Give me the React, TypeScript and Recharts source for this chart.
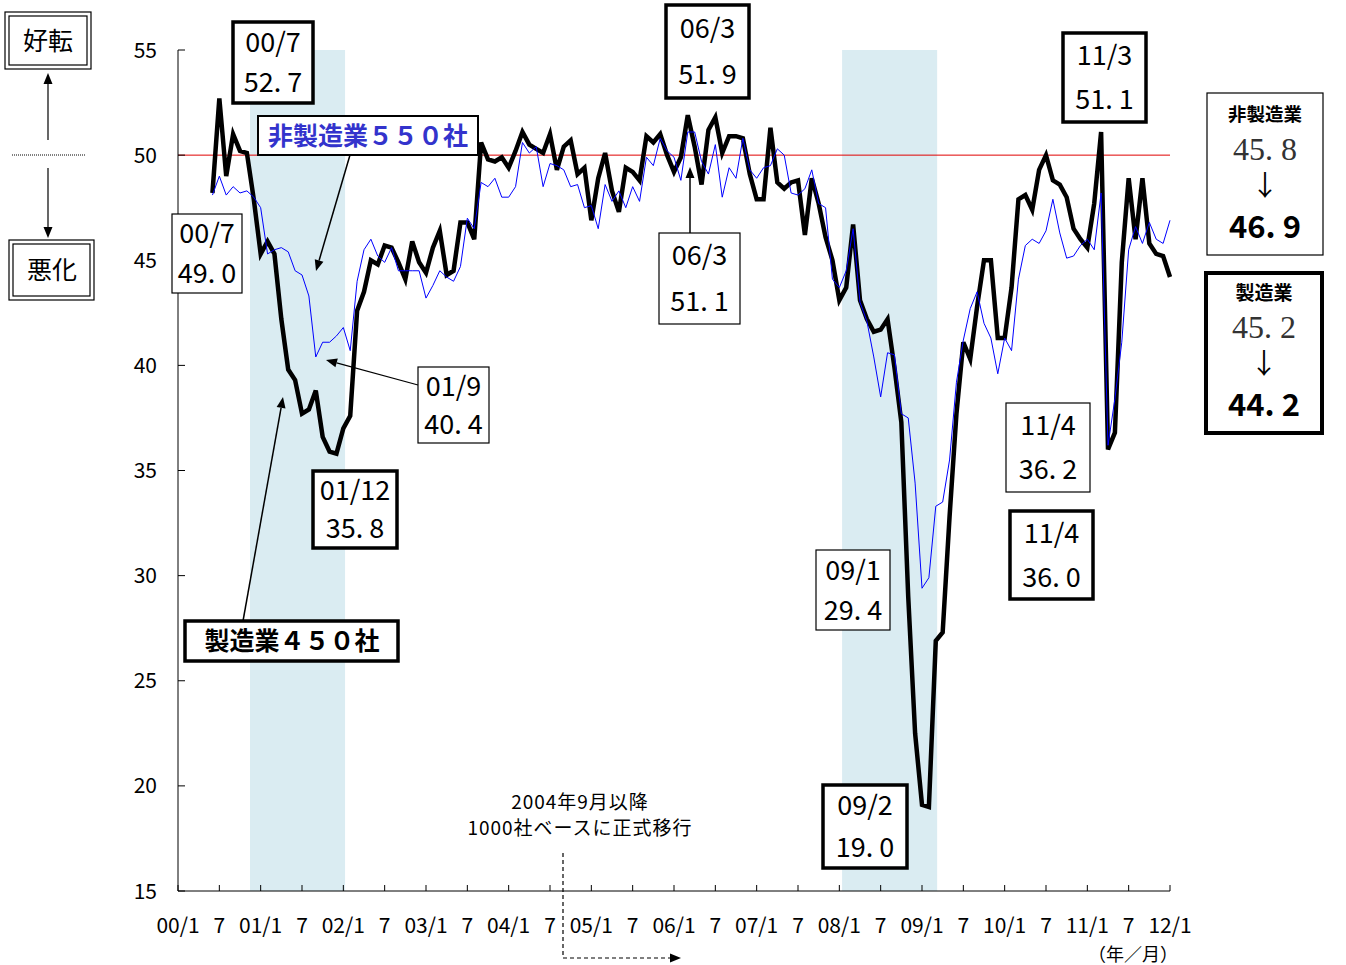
import { LineChart, Line, XAxis, YAxis, ReferenceArea, ReferenceLine } from "recharts";

// monthly DI, 2000/6 .. 2012/1
const FIRST_MONTH = 5; // index of 00/6 counted from 00/1

const manufacturing = [
  48.2, 52.7, 49.0, 51.0, 50.2, 50.1, 47.9,
  45.3, 45.9, 45.3, 42.2, 39.8, 39.3, 37.7, 37.9, 38.8, 36.6, 35.9, 35.8,
  37.0, 37.6, 42.6, 43.5, 45.0, 44.8, 45.7, 45.6, 44.9, 44.1, 45.9, 44.9,
  44.4, 45.6, 46.4, 44.3, 44.5, 46.8, 46.8, 46.0, 50.6, 49.8, 49.7, 49.9,
  49.4, 50.2, 51.1, 50.5, 50.3, 50.1, 51.0, 49.3, 50.4, 50.7, 49.1, 49.4,
  46.9, 48.9, 50.1, 48.3, 47.3, 49.4, 49.2, 48.8, 50.9, 50.6, 51.0, 50.0,
  49.2, 49.9, 51.9, 50.4, 48.6, 51.2, 51.8, 50.1, 50.9, 50.9, 50.8, 49.1,
  47.9, 47.9, 51.3, 48.7, 48.4, 48.7, 48.8, 46.2, 48.9, 47.7, 46.1, 45.0,
  43.1, 43.7, 46.7, 43.1, 42.2, 41.6, 41.7, 42.2, 39.9, 37.3, 29.0, 22.5,
  19.1, 19.0, 26.9, 27.3, 32.8, 37.7, 41.1, 40.3, 42.8, 45.0, 45.0, 41.3,
  41.3, 43.7, 47.9, 48.1, 47.4, 49.3, 50.0, 48.8, 48.6, 48.0, 46.5, 46.0,
  45.6, 47.7, 51.1, 36.0, 36.8, 44.9, 48.9, 46.0, 48.9, 45.8, 45.3, 45.2,
  44.2,
];

const nonManufacturing = [
  48.1, 49.0, 48.1, 48.5, 48.2, 48.3, 48.0,
  47.5, 45.3, 45.5, 45.6, 45.4, 44.5, 44.3, 43.3, 40.4, 41.1, 41.1, 41.4,
  41.8, 40.7, 44.0, 45.5, 46.0, 45.2, 44.9, 45.6, 44.5, 44.5, 44.5, 44.5,
  43.2, 43.8, 44.5, 44.2, 44.0, 44.7, 47.0, 46.5, 48.7, 48.5, 48.9, 48.0,
  48.0, 48.5, 50.6, 50.1, 50.4, 48.5, 49.6, 49.5, 49.3, 48.5, 48.6, 47.5,
  47.6, 46.5, 48.6, 47.8, 48.3, 47.5, 48.5, 47.8, 49.9, 49.5, 50.8, 50.2,
  49.9, 48.8, 51.1, 51.1, 49.7, 49.1, 50.5, 48.0, 49.4, 48.9, 50.8, 49.3,
  48.9, 49.4, 49.5, 50.3, 50.0, 48.2, 48.1, 48.4, 49.3, 47.7, 47.5, 44.1,
  43.7, 44.5, 46.5, 43.0, 42.1, 40.4, 38.5, 40.6, 40.5, 37.7, 37.5, 34.4,
  29.4, 29.9, 33.3, 33.5, 35.5, 39.2, 41.2, 42.7, 43.5, 42.0, 41.3, 39.6,
  41.3, 40.7, 44.1, 45.7, 46.0, 45.8, 46.4, 47.9, 46.3, 45.1, 45.2, 45.7,
  46.0, 45.5, 48.2, 36.2, 38.4, 41.1, 45.5, 46.6, 45.8, 46.8, 46.0, 45.8,
  46.9,
];

const xTickLabels = [
  "00/1", "7", "01/1", "7", "02/1", "7", "03/1", "7", "04/1", "7", "05/1", "7",
  "06/1", "7", "07/1", "7", "08/1", "7", "09/1", "7", "10/1", "7", "11/1", "7", "12/1",
];
const xTicks = xTickLabels.map((_, i) => i * 6);
const yTicks = [15, 20, 25, 30, 35, 40, 45, 50, 55];

// recession periods (month index from 00/1)
const recessions = [
  [10.45, 24.25],
  [96.4, 110.2],
];

const data = manufacturing.map((v, i) => ({
  m: FIRST_MONTH + i,
  mfg: v,
  nonMfg: nonManufacturing[i],
}));

const FONT = "'Noto Sans CJK JP', 'Noto Sans', sans-serif";
const SERIF = "'Liberation Serif', serif";
const X_MARGIN = 29;
const Y_MARGIN = 21;

const XTick = (props: any) => {
  const { x, y, payload } = props;
  const label = xTickLabels[Math.round(payload.value / 6)];
  const axisY = y - X_MARGIN;
  return (
    <g>
      <line x1={x} x2={x} y1={axisY} y2={axisY - 6} stroke="#000" strokeWidth={1} />
      <text x={x} y={y - 2} dy="0.71em" textAnchor="middle" fontFamily={FONT} fontSize={21} fill="#000">
        {label}
      </text>
    </g>
  );
};

const YTick = (props: any) => {
  const { x, y, payload } = props;
  const axisX = x + Y_MARGIN;
  return (
    <g>
      <line x1={axisX} x2={axisX + 7} y1={y} y2={y} stroke="#000" strokeWidth={1} />
      <text x={x} y={y} dy="0.36em" textAnchor="end" fontFamily={FONT} fontSize={21} fill="#000">
        {payload.value}
      </text>
    </g>
  );
};

type Box = { x: number; y: number; w: number; h: number; l1: string; l2: string; thick: boolean };
const valueBoxes: Box[] = [
  { x: 233, y: 22, w: 80, h: 81, l1: "00/7", l2: "52. 7", thick: true },
  { x: 666, y: 5, w: 83, h: 93, l1: "06/3", l2: "51. 9", thick: true },
  { x: 1063, y: 33, w: 83, h: 89, l1: "11/3", l2: "51. 1", thick: true },
  { x: 172, y: 214, w: 70, h: 79, l1: "00/7", l2: "49. 0", thick: false },
  { x: 659, y: 233, w: 81, h: 91, l1: "06/3", l2: "51. 1", thick: false },
  { x: 418, y: 367, w: 71, h: 76, l1: "01/9", l2: "40. 4", thick: false },
  { x: 313, y: 471, w: 84, h: 77, l1: "01/12", l2: "35. 8", thick: true },
  { x: 816, y: 550, w: 74, h: 80, l1: "09/1", l2: "29. 4", thick: false },
  { x: 823, y: 785, w: 84, h: 83, l1: "09/2", l2: "19. 0", thick: true },
  { x: 1006, y: 403, w: 84, h: 89, l1: "11/4", l2: "36. 2", thick: false },
  { x: 1010, y: 511, w: 83, h: 88, l1: "11/4", l2: "36. 0", thick: true },
];

const Arrow = ({ x1, y1, x2, y2, w = 1.5, dash }: any) => {
  const a = Math.atan2(y2 - y1, x2 - x1);
  const L = 11;
  const s = 4.5;
  const bx = x2 - L * Math.cos(a);
  const by = y2 - L * Math.sin(a);
  const p = `${x2},${y2} ${bx + s * Math.sin(a)},${by - s * Math.cos(a)} ${bx - s * Math.sin(a)},${by + s * Math.cos(a)}`;
  return (
    <g>
      <line x1={x1} y1={y1} x2={bx} y2={by} stroke="#000" strokeWidth={w} strokeDasharray={dash} />
      <polygon points={p} fill="#000" />
    </g>
  );
};

const Overlay = () => (
  <svg width={1346} height={965} style={{ position: "absolute", left: 0, top: 0, pointerEvents: "none" }}>
    {valueBoxes.map((b, i) => {
      const sw = b.thick ? 3.5 : 1.2;
      const cx = b.x + b.w / 2;
      return (
        <g key={i}>
          <rect x={b.x} y={b.y} width={b.w} height={b.h} fill="#fff" stroke="#000" strokeWidth={sw} />
          <text x={cx} y={b.y + b.h * 0.25} dy="0.36em" textAnchor="middle" fontFamily={FONT} fontSize={27} fill="#000">
            {b.l1}
          </text>
          <text x={cx} y={b.y + b.h * 0.75} dy="0.36em" textAnchor="middle" fontFamily={FONT} fontSize={27} fill="#000">
            {b.l2}
          </text>
        </g>
      );
    })}

    {/* series name boxes */}
    <rect x={258} y={116} width={220} height={39} fill="#fff" stroke="#000" strokeWidth={2} />
    <text x={368} y={136} dy="0.36em" textAnchor="middle" fontFamily={FONT} fontWeight={700} fontSize={25} fill="#3333cc">
      非製造業５５０社
    </text>
    <rect x={185} y={621} width={213} height={40} fill="#fff" stroke="#000" strokeWidth={3.5} />
    <text x={292} y={641} dy="0.36em" textAnchor="middle" fontFamily={FONT} fontWeight={700} fontSize={25} fill="#000">
      製造業４５０社
    </text>
    <Arrow x1={350} y1={155} x2={316} y2={271} />
    <Arrow x1={243} y1={621} x2={283} y2={397} />
    <Arrow x1={418} y1={385} x2={326} y2={360} w={1.2} />
    <Arrow x1={690} y1={233} x2={690} y2={167} w={1.5} />

    {/* right summary boxes */}
    <rect x={1207} y={93} width={116} height={162} fill="#fff" stroke="#000" strokeWidth={1.2} />
    <text x={1265} y={114} dy="0.36em" textAnchor="middle" fontFamily={FONT} fontWeight={700} fontSize={18.5}>非製造業</text>
    <text x={1265} y={148} dy="0.36em" textAnchor="middle" fontFamily={SERIF} fontSize={32} fill="#333">45. 8</text>
    <text x={1265} y={186} dy="0.36em" textAnchor="middle" fontFamily={FONT} fontSize={28}>↓</text>
    <text x={1265} y={227} dy="0.36em" textAnchor="middle" fontFamily={FONT} fontWeight={700} fontSize={31}>46. 9</text>

    <rect x={1206} y={273} width={116} height={160} fill="#fff" stroke="#000" strokeWidth={4} />
    <text x={1264} y={293} dy="0.36em" textAnchor="middle" fontFamily={FONT} fontWeight={700} fontSize={19}>製造業</text>
    <text x={1264} y={326} dy="0.36em" textAnchor="middle" fontFamily={SERIF} fontSize={32} fill="#333">45. 2</text>
    <text x={1264} y={364} dy="0.36em" textAnchor="middle" fontFamily={FONT} fontSize={28}>↓</text>
    <text x={1264} y={405} dy="0.36em" textAnchor="middle" fontFamily={FONT} fontWeight={700} fontSize={31}>44. 2</text>

    {/* left legend: better / worse */}
    <rect x={5} y={12} width={86} height={57} fill="#fff" stroke="#000" strokeWidth={1.2} />
    <rect x={9} y={16} width={78} height={49} fill="none" stroke="#000" strokeWidth={1.2} />
    <text x={48} y={41} dy="0.36em" textAnchor="middle" fontFamily={FONT} fontSize={25}>好転</text>
    <rect x={9} y={240} width={85} height={60} fill="#fff" stroke="#000" strokeWidth={1.2} />
    <rect x={13} y={244} width={77} height={52} fill="none" stroke="#000" strokeWidth={1.2} />
    <text x={52} y={270} dy="0.36em" textAnchor="middle" fontFamily={FONT} fontSize={25}>悪化</text>
    <Arrow x1={48} y1={140} x2={48} y2={73} w={1.2} />
    <line x1={12} x2={86} y1={155} y2={155} stroke="#000" strokeWidth={1} strokeDasharray="1 1" />
    <Arrow x1={48} y1={168} x2={48} y2={238} w={1.2} />

    {/* base change note */}
    <text x={580} y={802} dy="0.36em" textAnchor="middle" fontFamily={FONT} fontSize={19} letterSpacing={1}>2004年9月以降</text>
    <text x={580} y={828} dy="0.36em" textAnchor="middle" fontFamily={FONT} fontSize={19} letterSpacing={1}>1000社ベースに正式移行</text>
    <line x1={563} x2={563} y1={853} y2={958} stroke="#000" strokeWidth={1.2} strokeDasharray="4 3" />
    <Arrow x1={563} y1={958} x2={681} y2={958} w={1.2} dash="4 3" />
    <text x={1133} y={955} dy="0.36em" textAnchor="middle" fontFamily={FONT} fontSize={18}>（年／月）</text>
  </svg>
);

export default function App() {
  return (
    <div style={{ position: "fixed", left: 0, top: 0, width: 1346, height: 965, background: "#fff" }}>
      <LineChart width={1346} height={965} data={data} margin={{ top: 50, right: 176, bottom: 34, left: 118 }}>
        {recessions.map(([a, b], i) => (
          <ReferenceArea key={i} x1={a} x2={b} y1={15} y2={55} fill="#daecf2" fillOpacity={1} stroke="none" />
        ))}
        <XAxis
          dataKey="m"
          type="number"
          domain={[0, 144]}
          ticks={xTicks}
          interval={0}
          height={40}
          tickSize={0}
          tickMargin={X_MARGIN}
          tick={<XTick />}
          axisLine={{ stroke: "#000", strokeWidth: 1 }}
          tickLine={false}
        />
        <YAxis
          type="number"
          domain={[15, 55]}
          ticks={yTicks}
          interval={0}
          width={60}
          tickSize={0}
          tickMargin={Y_MARGIN}
          tick={<YTick />}
          axisLine={{ stroke: "#000", strokeWidth: 1 }}
          tickLine={false}
        />
        <ReferenceLine y={50} stroke="#e00000" strokeWidth={1} />
        <Line dataKey="mfg" stroke="#000" strokeWidth={4.5} dot={false} isAnimationActive={false} type="linear" />
        <Line dataKey="nonMfg" stroke="#0000ff" strokeWidth={1} dot={false} isAnimationActive={false} type="linear" />
      </LineChart>
      <Overlay />
    </div>
  );
}
